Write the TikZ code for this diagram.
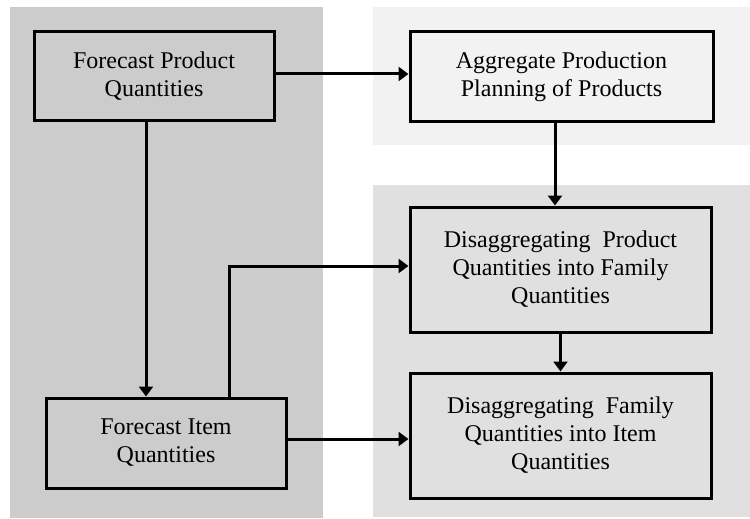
\documentclass[tikz,border=0pt]{standalone}
\usepackage{fontspec}
\setmainfont{Liberation Serif}
\usetikzlibrary{arrows.meta}
\definecolor{panelA}{HTML}{CCCCCC}
\definecolor{panelB}{HTML}{F2F2F2}
\definecolor{panelC}{HTML}{E0E0E0}
\begin{document}
\begin{tikzpicture}[x=1pt,y=-1pt,
  box/.style={draw=black, line width=3pt, align=center, inner sep=0pt,
    font=\fontsize{24}{28}\selectfont},
  arr/.style={line width=3pt, -{Triangle[width=14pt,length=10pt]}}]
\useasboundingbox (0,0) rectangle (750,519);
% panels
\fill[panelA] (10,7) rectangle (323,518);
\fill[panelB] (373,7) rectangle (750,145);
\fill[panelC] (373,185) rectangle (750,517);
% boxes
\node[box, fill=panelA, minimum width=240pt, minimum height=88pt] (fpq) at (154,76) {Forecast Product\\Quantities};
\node[box, fill=panelB, minimum width=303pt, minimum height=89pt] (agg) at (561.5,76.5) {Aggregate Production\\Planning of Products};
\node[box, fill=panelC, minimum width=301pt, minimum height=125pt] (dp) at (560.5,269.5) {Disaggregating~ Product\\Quantities into Family\\Quantities};
\node[box, fill=panelC, minimum width=301pt, minimum height=125pt] (df) at (560.5,435.5) {Disaggregating~ Family\\Quantities into Item\\Quantities};
\node[box, fill=panelA, minimum width=240pt, minimum height=90pt] (fiq) at (166,443) {Forecast Item\\Quantities};
% connectors
\draw[arr] ([yshift=2pt]fpq.east) -- ([yshift=2pt]fpq.east -| agg.west);
\draw[arr] ([xshift=-8pt]fpq.south) -- ([xshift=-8pt]fpq.south |- fiq.north);
\draw[arr] ([xshift=-6.5pt]agg.south) -- ([xshift=-6.5pt]agg.south |- dp.north);
\draw[arr] (dp.south) -- (df.north);
\draw[arr] ([xshift=63pt]fiq.north) |- ([yshift=3.5pt]dp.west);
\draw[arr] ([yshift=4pt]fiq.east) -- ([yshift=4pt]fiq.east -| df.west);
\end{tikzpicture}
\end{document}
